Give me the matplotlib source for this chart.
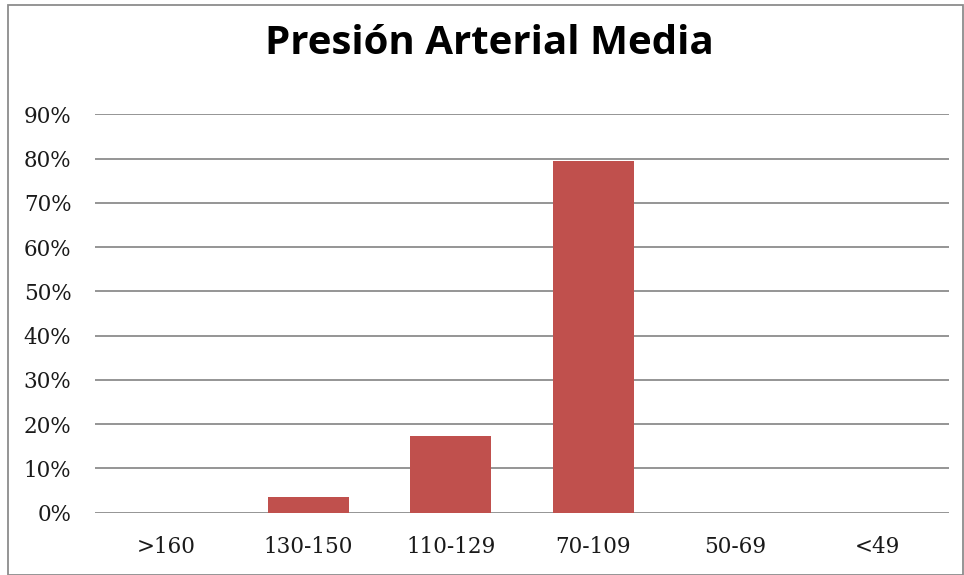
import numpy as np
import matplotlib.pyplot as plt
from matplotlib.patches import Rectangle
from matplotlib.ticker import FuncFormatter

categorias = ['>160', '130-150', '110-129', '70-109', '50-69', '<49']
porcentajes = [0.0, 3.5, 17.2, 79.4, 0.0, 0.0]

fig = plt.figure(figsize=(9.64, 5.75), dpi=100)
ax = fig.add_axes([95/964, 1 - 512.5/575, (949-95)/964, (512.5-114.5)/575])

x = np.arange(len(categorias))
ax.bar(x, porcentajes, width=0.57, color='#C0504D', zorder=3)

ax.set_xlim(-0.5, len(categorias) - 0.5)
ax.set_ylim(0, 90)
ax.set_yticks(np.arange(0, 91, 10))
ax.yaxis.set_major_formatter(FuncFormatter(lambda v, p: f'{v:.0f}%'))
ax.set_xticks(x)
ax.set_xticklabels(categorias)

ax.grid(axis='y', color='#8C8C8C', linewidth=1.3, zorder=0)
for s in ax.spines.values():
    s.set_visible(False)
ax.tick_params(length=0, labelsize=15.5, pad=17)
ax.tick_params(axis='x', pad=17)
for lbl in ax.get_xticklabels() + ax.get_yticklabels():
    lbl.set_fontfamily('DejaVu Serif')
    lbl.set_color('#1a1a1a')

fig.text(489/964, 1 - 44/575, 'Presión Arterial Media', ha='center', va='center',
         fontsize=29, fontweight='bold', family='Open Sans', color='black')

# marco del gráfico
fig.patches.append(Rectangle((8/964, 0.5/575), 955/964, 570/575, transform=fig.transFigure,
                             fill=False, edgecolor='#8C8C8C', linewidth=1.3))

fig.savefig('out.png', dpi=100)
